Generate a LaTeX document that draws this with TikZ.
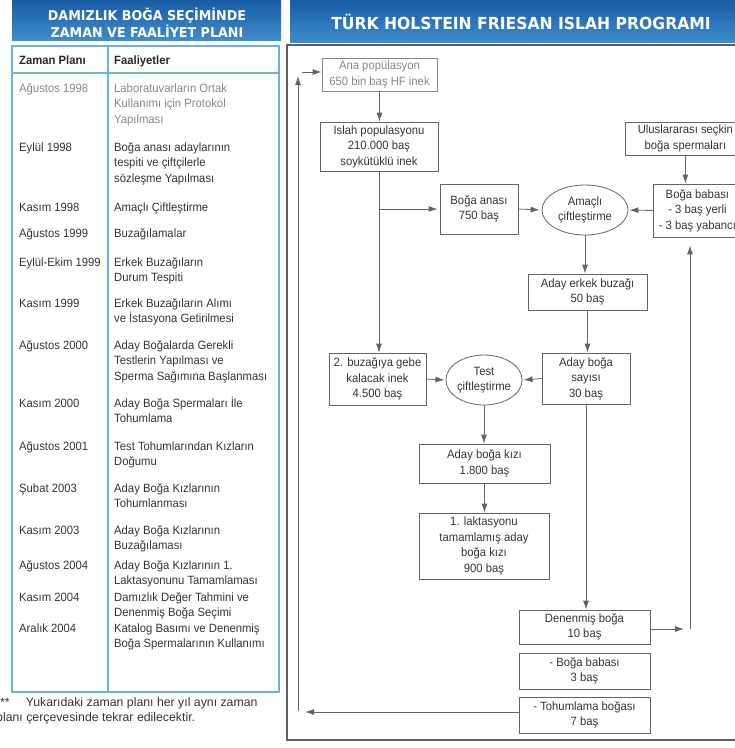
\documentclass[tikz,border=0pt]{standalone}
\usepackage{fontspec}
\setmainfont{Liberation Sans}[FakeStretch=0.94]
\newfontfamily\notefont{Liberation Sans}
\newfontfamily\titlefont{DejaVu Sans}[FakeStretch=0.94]
\usetikzlibrary{shapes.geometric,arrows.meta,calc}

\definecolor{hdrdark}{RGB}{24,92,166}
\definecolor{hdrlight}{RGB}{62,140,204}
\definecolor{rulecol}{RGB}{105,178,228}
\definecolor{ink}{RGB}{52,52,52}
\definecolor{paleink}{RGB}{135,135,135}
\definecolor{edge}{RGB}{100,100,100}
\definecolor{frame}{RGB}{95,95,95}

\tikzset{
  body/.style={font=\fontsize{12}{15.5}\selectfont, text=ink, inner sep=0pt},
  % multi-line cells are anchored on the baseline of their last line
  cell/.style={body, align=left, anchor=base west},
  headcell/.style={cell, font=\fontsize{12}{15.5}\selectfont\bfseries, text=black!85},
  fbox/.style={body, draw=edge, line width=0.8pt, align=center},
  oval/.style={fbox, ellipse},
  link/.style={draw=edge, line width=0.8pt},
  arr/.style={link, -{Latex[length=9pt,width=6pt]}},
  bandtitle/.style={text=white, align=center, inner sep=0pt},
}

\begin{document}
\begin{tikzpicture}[x=1pt,y=-1pt]
\useasboundingbox (0,0) rectangle (735,748);
\clip (0,0) rectangle (735,748);

% ---------- left panel: schedule table ----------
\shade[top color=hdrdark, bottom color=hdrlight] (12,0) rectangle (281,40);
\node[bandtitle, font=\titlefont\bfseries\fontsize{13.5}{17}\selectfont] (ltitle) at (147,22.5)
  {DAMIZLIK BOĞA SEÇİMİNDE\\ZAMAN VE FAALİYET PLANI};

\draw[rulecol, line width=1.2pt] (12,46) rectangle (279,692);
\draw[rulecol, line width=1.2pt] (12,73) -- (279,73);
\draw[rulecol, line width=1.2pt] (108,46) -- (108,692);

\node[headcell] (colwhen) at (19,64) {Zaman Planı};
\node[headcell] (colwhat) at (114,64) {Faaliyetler};

\node[cell, text=paleink] (when1) at (19,92) {Ağustos 1998};
\node[cell, text=paleink] (what1) at (114,92+2*15.5) {Laboratuvarların Ortak\\Kullanımı için Protokol\\Yapılması};

\foreach \yb/\n/\when/\what [count=\i from 2] in {
  151/3/{Eylül 1998}/{Boğa anası adaylarının\\tespiti ve çiftçilerle\\sözleşme Yapılması},
  211/1/{Kasım 1998}/{Amaçlı Çiftleştirme},
  237/1/{Ağustos 1999}/{Buzağılamalar},
  266/2/{Eylül-Ekim 1999}/{Erkek Buzağıların\\Durum Tespiti},
  307/2/{Kasım 1999}/{Erkek Buzağıların Alımı\\ve İstasyona Getirilmesi},
  349/3/{Ağustos 2000}/{Aday Boğalarda Gerekli\\Testlerin Yapılması ve\\Sperma Sağımına Başlanması},
  407/2/{Kasım 2000}/{Aday Boğa Spermaları İle\\Tohumlama},
  450/2/{Ağustos 2001}/{Test Tohumlarından Kızların\\Doğumu},
  492/2/{Şubat 2003}/{Aday Boğa Kızlarının\\Tohumlanması},
  534/2/{Kasım 2003}/{Aday Boğa Kızlarının\\Buzağılaması},
  569/2/{Ağustos 2004}/{Aday Boğa Kızlarının 1.\\Laktasyonunu Tamamlaması},
  601/2/{Kasım 2004}/{Damızlık Değer Tahmini ve\\Denenmiş Boğa Seçimi},
  632/2/{Aralık 2004}/{Katalog Basımı ve Denenmiş\\Boğa Spermalarının Kullanımı}}{
  \node[cell] (when\i) at (19,\yb) {\when};
  \node[cell] (what\i) at (114,{\yb+(\n-1)*15.5}) {\what};
}

\node[body, anchor=base west, font=\notefont\fontsize{12.3}{15}\selectfont] (note1) at (0,706)
  {**\hspace{16pt}Yukarıdaki zaman planı her yıl aynı zaman};
\node[body, anchor=base west, font=\notefont\fontsize{12.3}{15}\selectfont] (note2) at (-4,721)
  {planı çerçevesinde tekrar edilecektir.};

% ---------- right panel: breeding programme ----------
\shade[top color=hdrdark, bottom color=hdrlight] (290,0) rectangle (735,42);
\node[bandtitle, font=\titlefont\bfseries\fontsize{16.6}{18}\selectfont] (rtitle) at (521,22)
  {TÜRK HOLSTEIN FRIESAN ISLAH PROGRAMI};

\draw[frame, line width=1.4pt] (745,45) -- (287,45) -- (287,740) -- (745,740);

\node[fbox, text=paleink, draw=paleink, minimum width=115pt, minimum height=33pt] (ana) at (379.5,74.5)
  {Ana popülasyon\\650 bin baş HF inek};
\node[fbox, minimum width=118pt, minimum height=49pt] (islah) at (379,146.5)
  {Islah populasyonu\\210.000 baş\\soykütüklü inek};
\node[fbox, minimum width=78pt, minimum height=50pt] (bana) at (479,209)
  {Boğa anası\\750 baş};
\node[oval, minimum width=86pt, minimum height=50pt] (amac) at (585,210)
  {Amaçlı\\çiftleştirme};
\node[fbox, anchor=west, minimum width=88pt, minimum height=53pt] (bbaba) at (653,210.5)
  {Boğa babası\\- 3 baş yerli\\- 3 baş yabancı};
\node[fbox, anchor=west, minimum width=120pt, minimum height=33pt] (ulus) at (625,138.5)
  {Uluslararası seçkin\\boğa spermaları};
\node[fbox, minimum width=119pt, minimum height=36pt] (aeb) at (587.5,292)
  {Aday erkek buzağı\\50 baş};
\node[fbox, minimum width=88pt, minimum height=51pt] (abs) at (586,378.5)
  {Aday boğa\\sayısı\\30 baş};
\node[oval, minimum width=72pt, minimum height=50pt] (test) at (484,380)
  {Test\\çiftleştirme};
\node[fbox, minimum width=97pt, minimum height=52pt] (buz) at (377.5,379)
  {2. buzağıya gebe\\kalacak inek\\4.500 baş};
\node[fbox, minimum width=131pt, minimum height=39pt] (abk) at (484.5,463.5)
  {Aday boğa kızı\\1.800 baş};
\node[fbox, minimum width=130pt, minimum height=66pt] (lak) at (484,546)
  {1. laktasyonu\\tamamlamış aday\\boğa kızı\\900 baş};
\node[fbox, minimum width=131pt, minimum height=34pt] (den) at (584.5,627)
  {Denenmiş boğa\\10 baş};
\node[fbox, minimum width=131pt, minimum height=36pt] (bb3) at (584.5,671)
  {- Boğa babası\\3 baş};
\node[fbox, minimum width=131pt, minimum height=36pt] (toh) at (584.5,715)
  {- Tohumlama boğası\\7 baş};

% main flow
\draw[arr] (ana.south) -- (ana.south |- islah.north);
\draw[arr] (islah.south) -- (islah.south |- buz.north);
\draw[arr, shorten >=2pt] (islah.south |- bana.west) -- (bana.west);
\draw[arr, shorten >=2pt] (bana.east) -- (amac.west);
\draw[arr, shorten >=1pt] (bbaba.west) -- (amac.east);
\draw[arr] (ulus.south) -- (ulus.south |- bbaba.north);
\draw[arr] (amac.south) -- (amac.south |- aeb.north);
\draw[arr] (aeb.south) -- (aeb.south |- abs.north);
\draw[arr, shorten >=1pt] (abs.west) -- (test.east);
\draw[arr, shorten >=1pt] (buz.east) -- (test.west);
\draw[arr] (test.south) -- (test.south |- abk.north);
\draw[arr] (abk.south) -- (abk.south |- lak.north);
\draw[arr] (abs.south) -- (abs.south |- den.north);

% proven bulls back to the bull sires
\coordinate (rtip) at (684,629);
\coordinate (rcorner) at (690,629);
\draw[arr] (den.east |- rtip) -- (rtip);
\draw[arr, shorten >=8pt] (rcorner) -- (rcorner |- bbaba.south);

% insemination bulls back to the base population
\coordinate (ltip) at (305,712);
\coordinate (lcorner) at (298,711);
\coordinate (ltop) at (298,76);
\coordinate (lstart) at (302,72);
\draw[arr] (toh.west |- ltip) -- (ltip);
\draw[arr] (lcorner) -- (ltop);
\draw[arr] (lstart) -- (lstart -| ana.west);
\end{tikzpicture}
\end{document}
